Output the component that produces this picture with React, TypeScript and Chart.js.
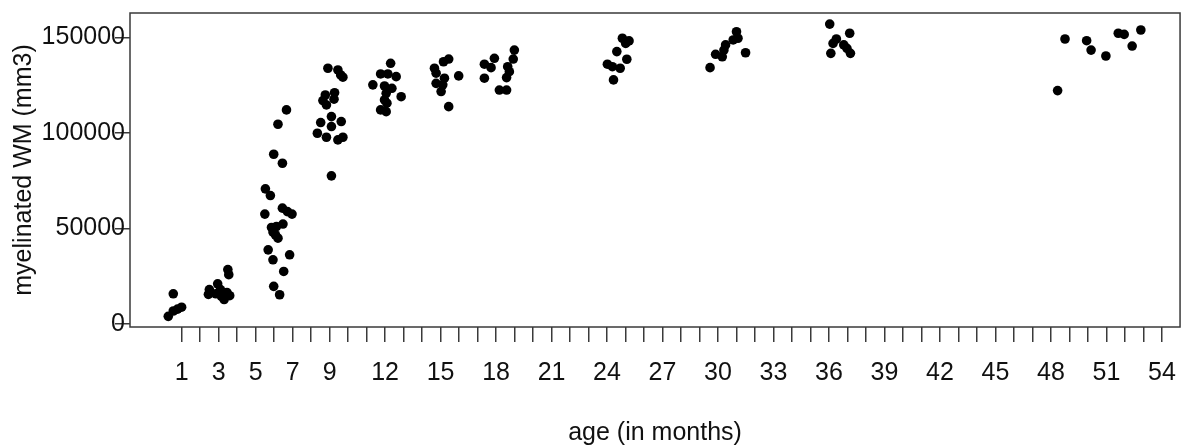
import React, { useEffect, useRef } from "react";
import { Chart, registerables } from "chart.js";

Chart.register(...registerables);

// x tick positions (every month) and the labels R printed
const xTickMonths = [
  1, 2, 3, 4, 5, 6, 7, 8, 9, 10, 11, 12, 13, 14, 15, 16, 17, 18, 19, 20, 21, 22, 23, 24, 25, 26, 27,
  28, 29, 30, 31, 32, 33, 34, 35, 36, 37, 38, 39, 40, 41, 42, 43, 44, 45, 46, 47, 48, 49, 50, 51, 52,
  53, 54,
];
const xTickLabels = [1, 3, 5, 7, 9, 12, 15, 18, 21, 24, 27, 30, 33, 36, 39, 42, 45, 48, 51, 54];
const yTickValues = [0, 50000, 100000, 150000];

// jittered ages (months) and myelinated WM volumes (mm3), per age group
const age1 = [0.28, 0.55, 0.78, 1.0, 0.55];
const wm1 = [4000, 6800, 7800, 8800, 15800];

const age3 = [3.5, 3.55, 2.95, 2.5, 2.45, 2.85, 3.15, 3.3, 3.6, 3.45, 3.1];
const wm3 = [28500, 25800, 21000, 18000, 15500, 15800, 14500, 12800, 14800, 16500, 18000];

const age6 = [
  6.67, 6.21, 5.98, 6.45, 5.53, 5.8, 5.5, 6.45, 6.72, 6.97, 5.86, 6.48, 6.13, 5.94, 6.07, 6.21, 5.68,
  5.94, 6.84, 6.52, 5.98, 6.3,
];
const wm6 = [
  112000, 104500, 88800, 84100, 70700, 67200, 57500, 60600, 58800, 57500, 50500, 52300, 51000, 48100,
  46700, 44900, 38800, 33600, 36200, 27500, 19700, 15300,
];

const age9 = [
  8.91, 9.45, 9.6, 9.72, 8.77, 9.27, 8.64, 9.24, 8.83, 9.1, 8.52, 9.1, 9.63, 8.34, 8.83, 9.45, 9.72, 9.1,
];
const wm9 = [
  133800, 132900, 130300, 129100, 119800, 121000, 116900, 117600, 114600, 108500, 105400, 103300,
  105900, 99800, 97700, 96300, 97700, 77500,
];

const age12 = [12.3, 11.76, 12.15, 12.6, 11.34, 11.97, 12.37, 12.06, 12.87, 11.97, 12.1, 11.76, 12.06];
const wm12 = [
  136400, 130800, 130800, 129400, 125100, 124500, 123300, 120700, 118900, 117200, 115500, 112000, 111100,
];

const age15 = [15.44, 15.16, 14.67, 14.76, 15.98, 15.21, 14.76, 15.12, 15.03, 15.44];
const wm15 = [138600, 137200, 133800, 131200, 129800, 128600, 125900, 125100, 121600, 113700];

const age18 = [18.99, 18.93, 17.91, 17.37, 17.73, 18.63, 18.72, 18.57, 17.37, 18.18, 18.57];
const wm18 = [143300, 138600, 139000, 135900, 134100, 134600, 132000, 128900, 128600, 122400, 122400];

const age24 = [24.83, 25.19, 25.01, 24.53, 25.07, 24.02, 24.29, 24.71, 24.35];
const wm24 = [149500, 148100, 146800, 142500, 138500, 135900, 134600, 133800, 127700];

const age30 = [31.0, 31.08, 30.82, 30.41, 30.32, 29.87, 30.23, 31.49, 29.57];
const wm30 = [152900, 149500, 148600, 146000, 143300, 141100, 139800, 141900, 134100];

const age36 = [36.04, 37.12, 36.4, 36.22, 36.8, 36.97, 36.1, 37.16];
const wm36 = [156900, 152100, 149100, 146800, 146000, 144200, 141600, 141600];

const age48 = [48.76, 48.36, 49.93, 50.17, 50.97, 51.64, 51.96, 52.39, 52.86];
const wm48 = [149100, 122100, 148200, 143300, 140200, 152100, 151500, 145400, 153800];

const ageGroups = [age1, age3, age6, age9, age12, age15, age18, age24, age30, age36, age48];
const wmGroups = [wm1, wm3, wm6, wm9, wm12, wm15, wm18, wm24, wm30, wm36, wm48];

const FONT = '"Liberation Sans", Arial, Helvetica, sans-serif';
const TEXT = "#111";
const LINE = "#3a3a3a";
const FS = 25;

const boxPlugin = {
  id: "plotBox",
  afterDraw(chart: any) {
    const { ctx, chartArea } = chart;
    ctx.save();
    ctx.strokeStyle = LINE;
    ctx.lineWidth = 1.5;
    ctx.strokeRect(
      chartArea.left,
      chartArea.top,
      chartArea.right - chartArea.left,
      chartArea.bottom - chartArea.top
    );
    ctx.restore();
  },
};

export default function App() {
  const ref = useRef<HTMLCanvasElement | null>(null);

  useEffect(() => {
    if (!ref.current) return;
    const points: { x: number; y: number }[] = [];
    ageGroups.forEach((ages, g) => {
      ages.forEach((a, i) => points.push({ x: a, y: wmGroups[g][i] }));
    });

    const chart = new Chart(ref.current, {
      type: "scatter",
      data: {
        datasets: [
          {
            data: points,
            backgroundColor: "#000",
            borderWidth: 0,
            pointRadius: 4.8,
            pointHoverRadius: 4.8,
          },
        ],
      },
      plugins: [boxPlugin],
      options: {
        responsive: false,
        animation: false,
        events: [],
        layout: { padding: { top: 13, right: 10, left: 0, bottom: 0 } },
        plugins: {
          legend: { display: false },
          tooltip: { enabled: false },
        },
        scales: {
          x: {
            type: "linear",
            position: "bottom",
            min: -1.79,
            max: 54.98,
            afterBuildTicks: (s: any) => {
              s.ticks = xTickMonths.map((v) => ({ value: v }));
            },
            afterFit: (s: any) => {
              s.height = 119;
            },
            ticks: {
              autoSkip: false,
              maxRotation: 0,
              minRotation: 0,
              padding: 16,
              color: TEXT,
              font: { family: FONT, size: FS },
              callback: (v: any) => (xTickLabels.includes(Number(v)) ? String(v) : ""),
            },
            grid: {
              display: true,
              drawOnChartArea: false,
              drawTicks: true,
              tickLength: 15,
              color: LINE,
              lineWidth: 1.5,
            },
            border: { display: false },
            title: {
              display: true,
              text: "age (in months)",
              color: TEXT,
              font: { family: FONT, size: FS },
              padding: { top: 0, bottom: -2 },
            },
          },
          y: {
            type: "linear",
            position: "left",
            min: -1570,
            max: 162700,
            afterBuildTicks: (s: any) => {
              s.ticks = yTickValues.map((v) => ({ value: v }));
            },
            afterFit: (s: any) => {
              s.width = 130;
            },
            ticks: {
              padding: -10,
              color: TEXT,
              font: { family: FONT, size: FS },
              callback: (v: any) => String(v),
            },
            grid: {
              display: true,
              drawOnChartArea: false,
              drawTicks: true,
              tickLength: 15,
              color: LINE,
              lineWidth: 1.5,
            },
            border: { display: false },
            title: {
              display: true,
              text: "myelinated WM (mm3)",
              color: TEXT,
              font: { family: FONT, size: FS },
              padding: { top: 9, bottom: 0 },
            },
          },
        },
      },
    });
    return () => chart.destroy();
  }, []);

  return (
    <div style={{ position: "absolute", left: 0, top: 0, width: 1192, height: 446, background: "#fff" }}>
      <canvas ref={ref} width={1192} height={446} />
    </div>
  );
}
